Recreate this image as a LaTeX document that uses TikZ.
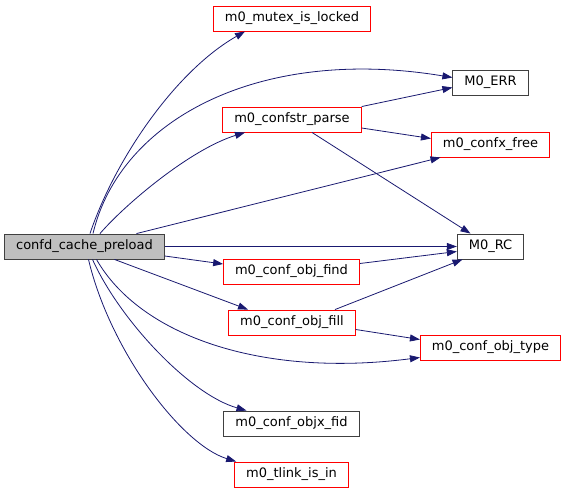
\documentclass[tikz,border=0pt]{standalone}
\usepackage{fontspec}
\setmainfont{DejaVu Sans}
\usetikzlibrary{arrows.meta}
\definecolor{callblue}{HTML}{191970}
\definecolor{boxgrey}{HTML}{BFBFBF}
\definecolor{boxdark}{HTML}{404040}

\begin{document}
\begin{tikzpicture}[x=1pt,y=-1pt,
  every node/.style={font=\fontsize{13}{15}\selectfont, minimum height=25pt, inner xsep=11.5pt, inner ysep=0pt, line width=0.9pt},
  fn/.style={draw=red},
  fnplain/.style={draw=boxdark},
  callarrow/.style={draw=callblue, line width=0.8pt, -{Triangle[length=10pt,width=7pt]}}]
\useasboundingbox (0,0) rectangle (567,493);
\node[draw=boxdark,fill=boxgrey] (pre) at (84.5,246.5) {confd\_cache\_preload};
\node[fn] (mutex) at (292,18.5) {m0\_mutex\_is\_locked};
\node[fnplain] (err) at (490.5,82.5) {M0\_ERR};
\node[fn] (parse) at (292,119.5) {m0\_confstr\_parse};
\node[fn] (free) at (490.5,144.5) {m0\_confx\_free};
\node[fnplain] (rc) at (490.5,246.5) {M0\_RC};
\node[fn] (find) at (291.5,271.5) {m0\_conf\_obj\_find};
\node[fn] (fill) at (292,322.5) {m0\_conf\_obj\_fill};
\node[fn] (type) at (490.5,347.5) {m0\_conf\_obj\_type};
\node[fnplain] (fid) at (291.5,423.5) {m0\_conf\_objx\_fid};
\node[fn] (tlink) at (291.5,474.5) {m0\_tlink\_is\_in};
% calls out of confd_cache_preload
\draw[callarrow] ([xshift=5.5pt]pre.north) .. controls +(25,-74) and +(-70,40) .. ([xshift=-47pt]mutex.south);
\draw[callarrow] ([xshift=8.5pt]pre.north) .. controls +(27,-114) and +(-193,-32) .. ([yshift=5pt]err.west);
\draw[callarrow] ([xshift=15.5pt]pre.north) .. controls +(25,-29) and +(-55,17) .. ([xshift=-47pt]parse.south);
\draw[callarrow] ([xshift=52pt]pre.north) -- ([xshift=-50pt]free.south);
\draw[callarrow] (pre.east) -- (rc.west);
\draw[callarrow] ([yshift=-9.5pt]pre.east) -- ([yshift=7.5pt]find.west);
\draw[callarrow] ([xshift=30pt]pre.south) -- ([xshift=-44pt]fill.north);
\draw[callarrow] ([xshift=12pt]pre.south) .. controls +(43.5,76) and +(-159,20.5) .. ([yshift=-10pt]type.west);
\draw[callarrow] ([xshift=8pt]pre.south) .. controls +(27.5,61) and +(-56.5,-16) .. ([xshift=-45pt]fid.north);
\draw[callarrow] ([xshift=4pt]pre.south) .. controls +(21.5,91) and +(-55,-17) .. ([xshift=2pt]tlink.north west);
% calls out of the callees
\draw[callarrow] (parse.north east) -- ([yshift=-5pt]err.west);
\draw[callarrow] ([yshift=-8.5pt]parse.east) -- ([yshift=6pt]free.west);
\draw[callarrow] ([xshift=20pt]parse.south) -- ([xshift=-20pt]rc.north);
\draw[callarrow] ([yshift=8pt]find.east) -- ([yshift=-5pt]rc.west);
\draw[callarrow] ([xshift=43pt]fill.north) -- ([xshift=-28pt]rc.south);
\draw[callarrow] ([yshift=-7pt]fill.east) -- ([yshift=8pt]type.west);
\end{tikzpicture}
\end{document}
